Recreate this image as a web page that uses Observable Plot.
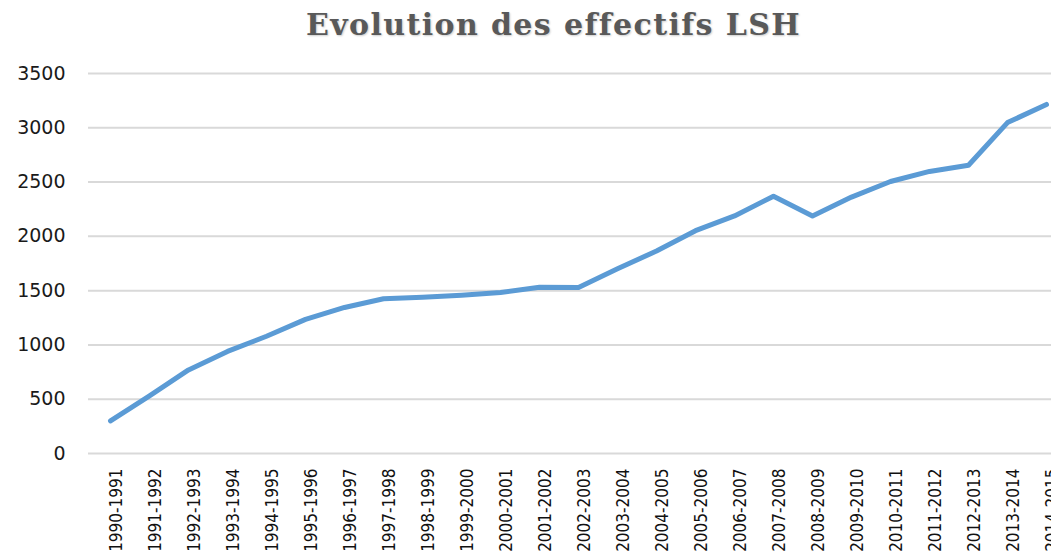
<!DOCTYPE html>
<html>
<head>
<meta charset="utf-8">
<script src="https://cdn.jsdelivr.net/npm/d3@7"></script>
<script src="https://cdn.jsdelivr.net/npm/@observablehq/plot@0.6"></script>
<style>
  html, body { margin: 0; padding: 0; background: #fff; overflow: hidden; width: 1051px; height: 556px; }
  #wrap { position: relative; width: 1051px; height: 556px; overflow: hidden; }
  #title { position: absolute; left: 0; top: 5px; width: 1107px; text-align: center;
    font-family: "DejaVu Serif", serif; font-weight: bold; font-size: 30px; letter-spacing: 1.4px; color: #595959;
    text-shadow: 1px 1px 2px rgba(0,0,0,0.2); white-space: nowrap; line-height: 40px; }
  #chart { position: absolute; left: 0; top: 0; }
  #chart svg { max-width: none !important; width: 1070px; height: 556px; }
</style>
</head>
<body>
<div id="wrap">
  <div id="chart"></div>
  <div id="title">Evolution des effectifs LSH</div>
</div>
<script>
const years = ["1990-1991","1991-1992","1992-1993","1993-1994","1994-1995","1995-1996","1996-1997","1997-1998","1998-1999","1999-2000","2000-2001","2001-2002","2002-2003","2003-2004","2004-2005","2005-2006","2006-2007","2007-2008","2008-2009","2009-2010","2010-2011","2011-2012","2012-2013","2013-2014","2014-2015"];
const effectifs = [300, 530, 770, 940, 1080, 1235, 1345, 1425, 1440, 1458, 1483, 1532, 1530, 1702, 1865, 2052, 2188, 2370, 2188, 2362, 2505, 2598, 2655, 3048, 3215];
const yTicks = [0, 500, 1000, 1500, 2000, 2500, 3000, 3500];

const data = years.map((y, i) => ({annee: y, n: effectifs[i]}));

const chart = Plot.plot({
  width: 1070,
  height: 556,
  marginLeft: 88,
  marginRight: 2,
  marginTop: 73,
  marginBottom: 103,
  x: {type: "point", domain: years, padding: 0.5},
  y: {domain: [0, 3500]},
  style: {background: "#fff", maxWidth: "none"},
  marks: [
    Plot.gridY(yTicks, {stroke: "#d9d9d9", strokeWidth: 2, strokeOpacity: 1}),
    Plot.axisY(yTicks, {tickSize: 0, tickPadding: 23, fontSize: 19, fontFamily: "DejaVu Sans", fill: "#1a1a1a", tickFormat: d => String(d), label: null}),
    Plot.axisX({tickRotate: -90, tickSize: 0, tickPadding: 15, fontSize: 17, fontFamily: "'DejaVu Sans Condensed', 'Liberation Sans', sans-serif", fill: "#111", dx: 6, label: null}),
    Plot.line(data, {x: "annee", y: "n", stroke: "#5B9BD5", strokeWidth: 5, strokeLinejoin: "round", strokeLinecap: "round"})
  ]
});
document.getElementById("chart").appendChild(chart);
</script>
</body>
</html>
